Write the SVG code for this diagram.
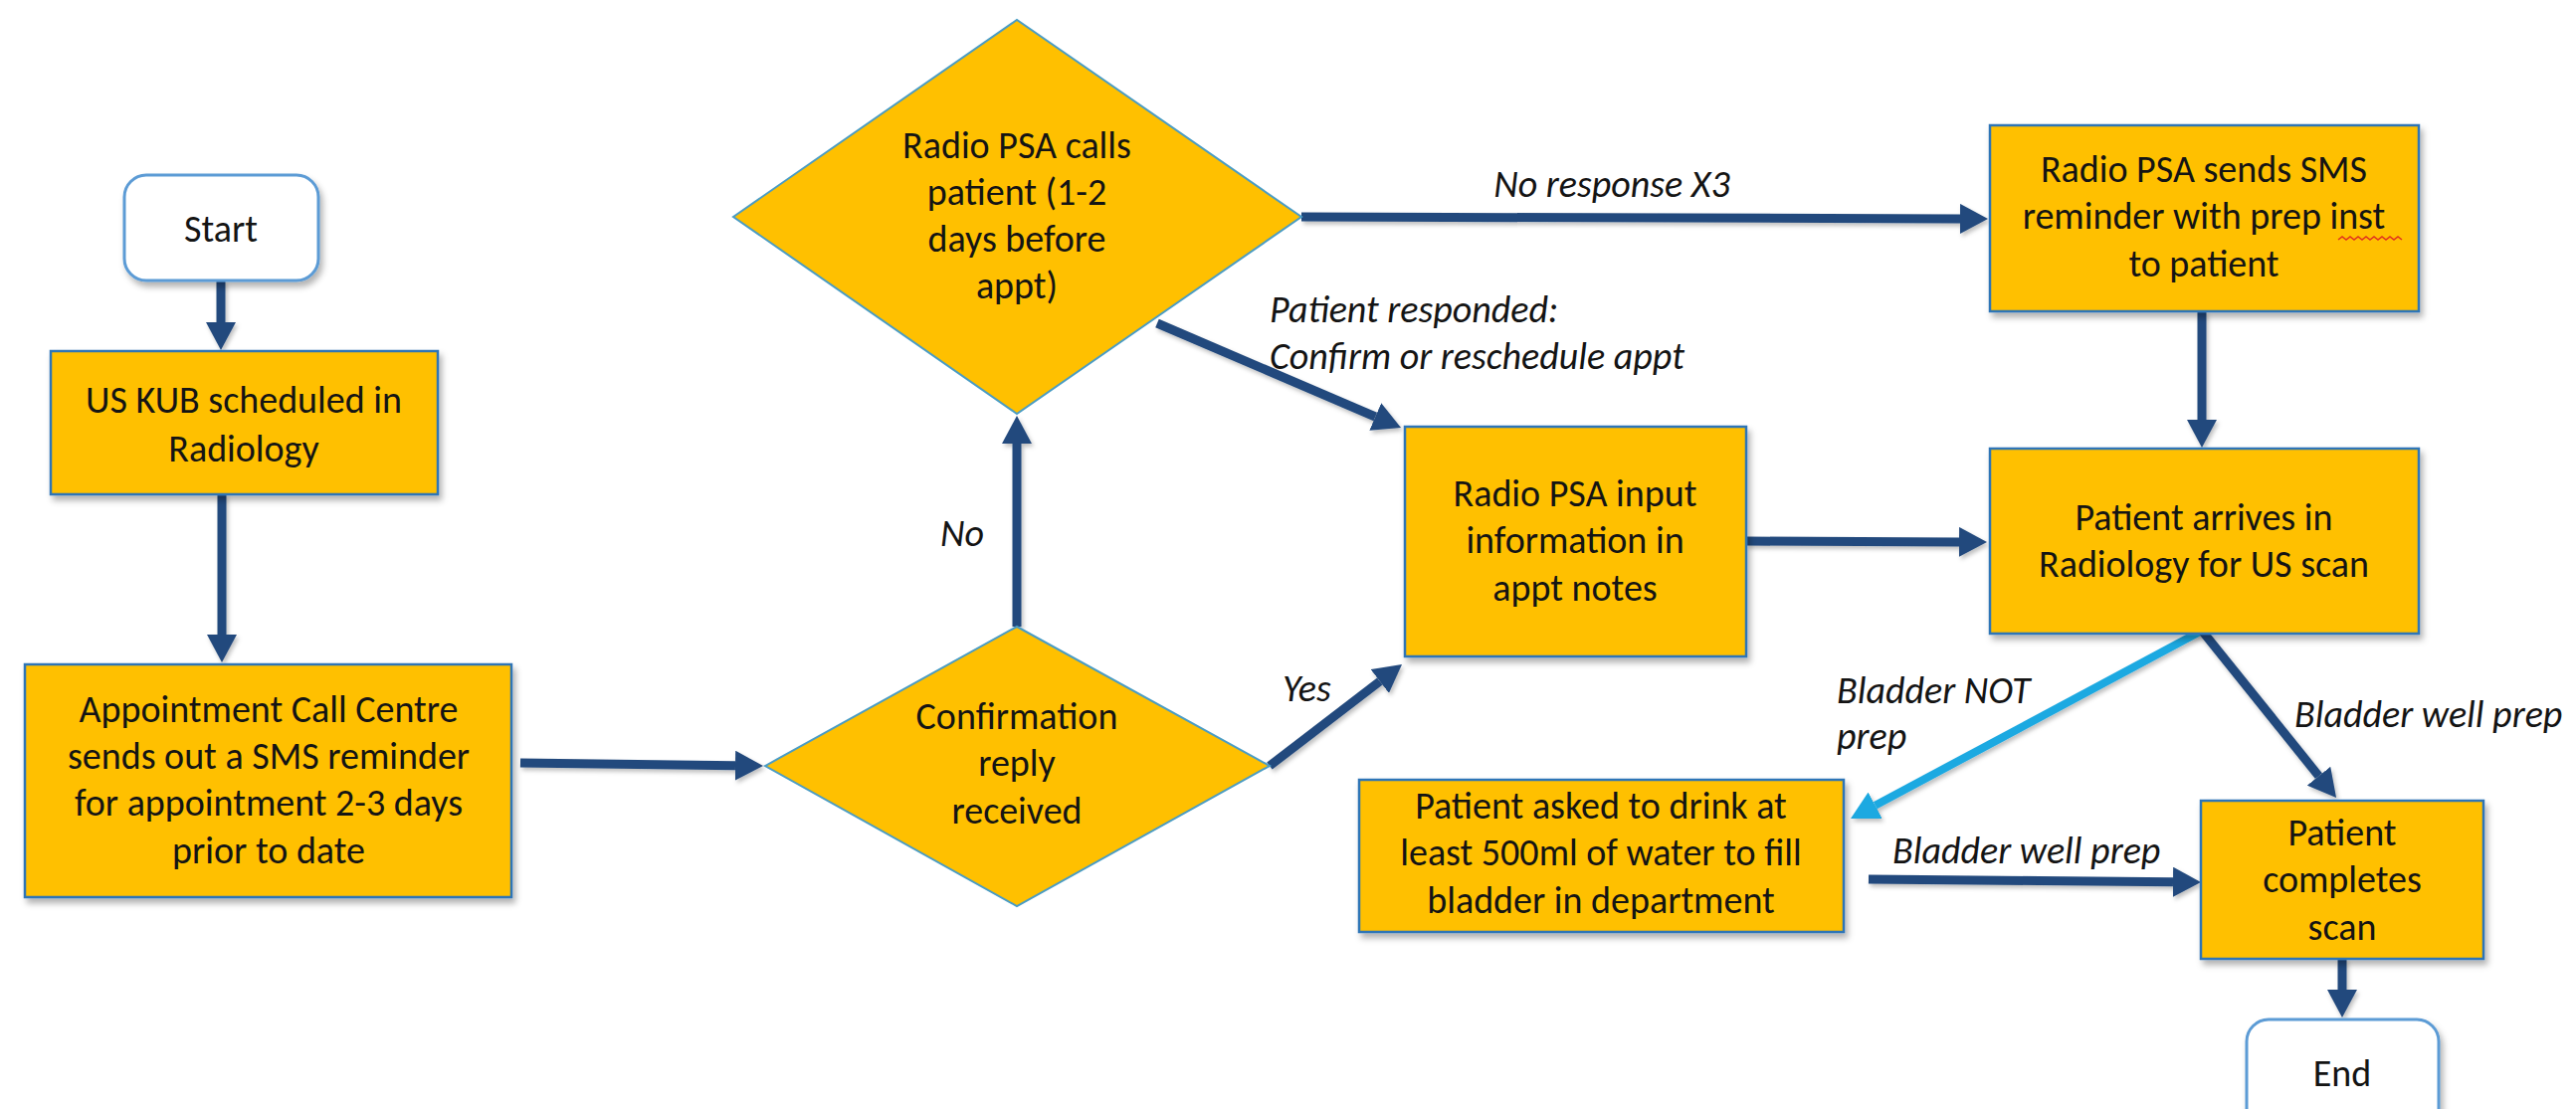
<svg xmlns="http://www.w3.org/2000/svg" width="2589" height="1115" viewBox="0 0 2589 1115">
<style>
  .box{fill:#FFC000;stroke:#2E75B6;stroke-width:2.5}
  .dia{fill:#FFC000;stroke:#4A9CC4;stroke-width:2}
  .term{fill:#FFFFFF;stroke:#5B9BD5;stroke-width:3}
  .t{font-family:Carlito,Lato,"Liberation Sans",sans-serif;font-size:38px;fill:#141414;text-anchor:middle}
  .lbl{font-family:Carlito,Lato,"Liberation Sans",sans-serif;font-size:38px;font-style:italic;fill:#141414}
  .c{fill:none;stroke:#244A7D;stroke-width:9}
  .cl{fill:none;stroke:#1FA9E1;stroke-width:8}
</style>
<defs>
  <filter id="sh" x="-10%" y="-10%" width="125%" height="130%">
    <feDropShadow dx="3" dy="5" stdDeviation="3" flood-color="#000" flood-opacity="0.3"/>
  </filter>
  <filter id="shc" x="-10%" y="-10%" width="120%" height="120%">
    <feDropShadow dx="2" dy="3" stdDeviation="2" flood-color="#000" flood-opacity="0.25"/>
  </filter>
  <marker id="ah" markerUnits="userSpaceOnUse" markerWidth="28" markerHeight="30" viewBox="0 0 28 30" refX="0" refY="15" orient="auto">
    <path d="M0,0 L28,15 L0,30 z" fill="#244A7D"/>
  </marker>
  <marker id="ahl" markerUnits="userSpaceOnUse" markerWidth="28" markerHeight="30" viewBox="0 0 28 30" refX="0" refY="15" orient="auto">
    <path d="M0,0 L28,15 L0,30 z" fill="#1FA9E1"/>
  </marker>
</defs>
<rect width="2589" height="1115" fill="#FFFFFF"/>

<g id="connectors" filter="url(#shc)">
  <path class="c" d="M222,282 L222,324" marker-end="url(#ah)"/>
  <path class="c" d="M223,497 L223,638" marker-end="url(#ah)"/>
  <path class="c" d="M523,767 L739,769.7" marker-end="url(#ah)"/>
  <path class="c" d="M1022,630 L1022,446" marker-end="url(#ah)"/>
  <path class="c" d="M1276,770 L1386.8,685" marker-end="url(#ah)"/>
  <path class="c" d="M1163,325 L1382.3,419" marker-end="url(#ah)"/>
  <path class="c" d="M1308,218 L1970,219.9" marker-end="url(#ah)"/>
  <path class="c" d="M1755,544 L1969,544.9" marker-end="url(#ah)"/>
  <path class="c" d="M2213,313 L2213,422" marker-end="url(#ah)"/>
  <path class="cl" d="M2213,634 L1884.7,809.8" marker-end="url(#ahl)"/>
  <path class="c" d="M2213,634 L2330.5,780.2" marker-end="url(#ah)"/>
  <path class="c" d="M1878,884 L2184,886.7" marker-end="url(#ah)"/>
  <path class="c" d="M2354,964 L2354,995" marker-end="url(#ah)"/>
</g>

<g id="labels">
  <text class="lbl" x="967" y="549" text-anchor="middle">No</text>
  <text class="lbl" x="1289" y="705">Yes</text>
  <text class="lbl" x="1620" y="198" text-anchor="middle">No response X3</text>
  <text class="lbl" x="1276" y="324">Patient responded:</text>
  <text class="lbl" x="1276" y="371">Confirm or reschedule appt</text>
  <text class="lbl" x="1846" y="707">Bladder NOT</text>
  <text class="lbl" x="1846" y="753">prep</text>
  <text class="lbl" x="2306" y="731">Bladder well prep</text>
  <text class="lbl" x="1902" y="868">Bladder well prep</text>
</g>

<g id="start">
  <rect class="term" x="125" y="176" width="195" height="106" rx="22" filter="url(#sh)"/>
  <text class="t" x="222" y="243">Start</text>
</g>

<g id="us-kub">
  <rect class="box" x="51" y="353" width="389" height="144" filter="url(#sh)"/>
  <text class="t" x="245" y="415">US KUB scheduled in</text>
  <text class="t" x="245" y="464">Radiology</text>
</g>

<g id="call-centre">
  <rect class="box" x="25" y="668" width="489" height="234" filter="url(#sh)"/>
  <text class="t" x="270" y="726">Appointment Call Centre</text>
  <text class="t" x="270" y="773">sends out a SMS reminder</text>
  <text class="t" x="270" y="820">for appointment 2-3 days</text>
  <text class="t" x="270" y="868">prior to date</text>
</g>

<g id="confirmation">
  <polygon class="dia" points="769,770 1022,630 1276,770 1022,911"/>
  <text class="t" x="1022" y="733">Confirmation</text>
  <text class="t" x="1022" y="780">reply</text>
  <text class="t" x="1022" y="828">received</text>
</g>

<g id="psa-calls">
  <polygon class="dia" points="737,218 1022,20 1308,218 1022,416"/>
  <text class="t" x="1022" y="159">Radio PSA calls</text>
  <text class="t" x="1022" y="206">patient (1-2</text>
  <text class="t" x="1022" y="253">days before</text>
  <text class="t" x="1022" y="300">appt)</text>
</g>

<g id="psa-input">
  <rect class="box" x="1412" y="429" width="343" height="231" filter="url(#sh)"/>
  <text class="t" x="1583" y="509">Radio PSA input</text>
  <text class="t" x="1583" y="556">information in</text>
  <text class="t" x="1583" y="604">appt notes</text>
</g>

<g id="psa-sms">
  <rect class="box" x="2000" y="126" width="431" height="187" filter="url(#sh)"/>
  <text class="t" x="2215" y="183">Radio PSA sends SMS</text>
  <text class="t" x="2215" y="230">reminder with prep inst</text>
  <text class="t" x="2215" y="278">to patient</text>
  <path d="M2350,241 l4,-3 l4,3 l4,-3 l4,3 l4,-3 l4,3 l4,-3 l4,3 l4,-3 l4,3 l4,-3 l4,3 l4,-3 l4,3 l4,-3 l4,3" fill="none" stroke="#E0301E" stroke-width="1.5"/>
</g>

<g id="arrives">
  <rect class="box" x="2000" y="451" width="431" height="186" filter="url(#sh)"/>
  <text class="t" x="2215" y="533">Patient arrives in</text>
  <text class="t" x="2215" y="580">Radiology for US scan</text>
</g>

<g id="drink">
  <rect class="box" x="1366" y="784" width="487" height="153" filter="url(#sh)"/>
  <text class="t" x="1609" y="823">Patient asked to drink at</text>
  <text class="t" x="1609" y="870">least 500ml of water to fill</text>
  <text class="t" x="1609" y="918">bladder in department</text>
</g>

<g id="completes">
  <rect class="box" x="2212" y="805" width="284" height="159" filter="url(#sh)"/>
  <text class="t" x="2354" y="850">Patient</text>
  <text class="t" x="2354" y="897">completes</text>
  <text class="t" x="2354" y="945">scan</text>
</g>

<g id="end">
  <rect class="term" x="2258" y="1025" width="193" height="120" rx="22" filter="url(#sh)"/>
  <text class="t" x="2354" y="1092">End</text>
</g>
</svg>
